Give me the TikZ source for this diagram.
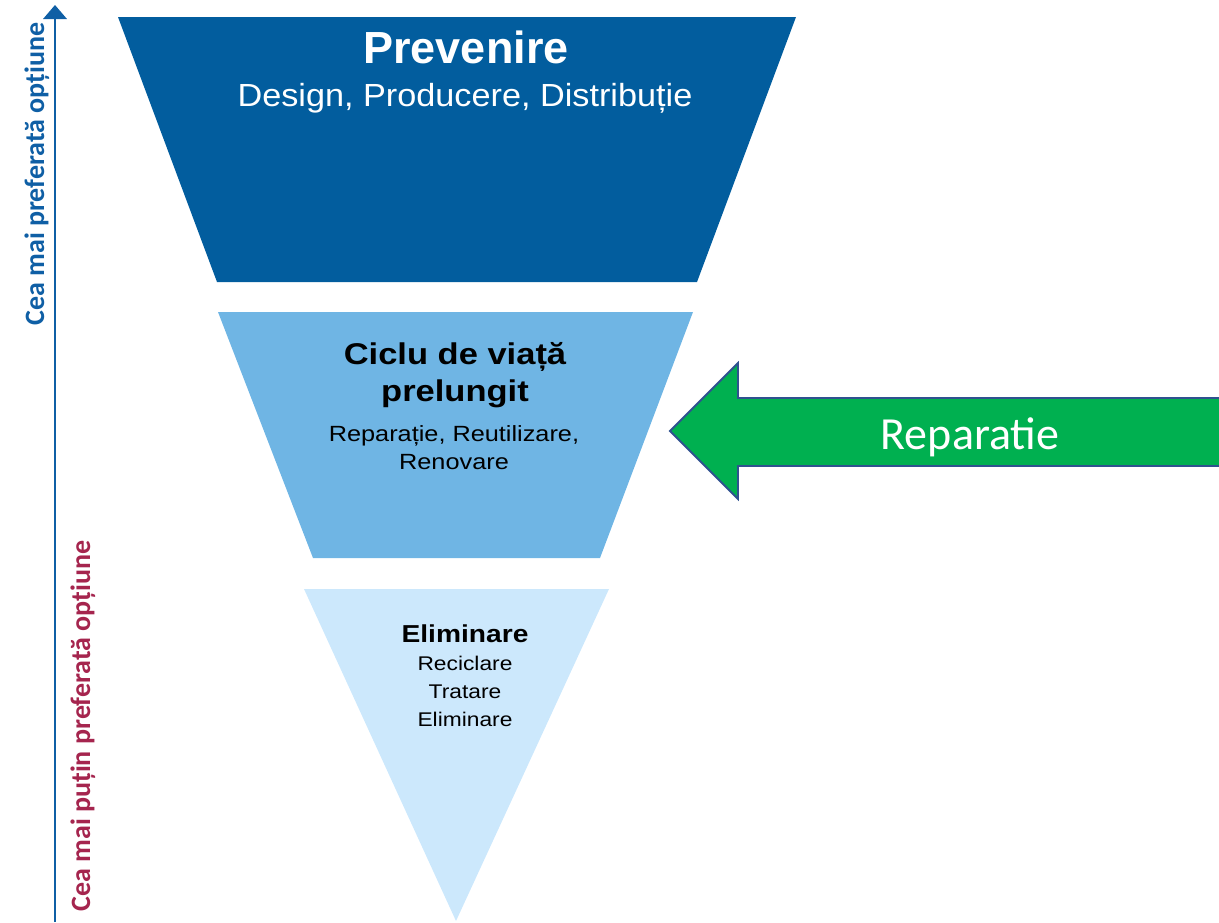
\documentclass[tikz,border=0pt]{standalone}
\usepackage{fontspec}
\setmainfont{Liberation Sans}
\newfontfamily\calibrifont{Carlito}
\definecolor{darkblue}{RGB}{2,93,158}
\definecolor{midblue}{RGB}{111,181,228}
\definecolor{lightblue}{RGB}{204,232,252}
\definecolor{axisblue}{RGB}{15,95,165}
\definecolor{labelred}{RGB}{165,37,78}
\definecolor{arrowgreen}{RGB}{0,176,80}
\definecolor{arrowborder}{RGB}{47,82,143}
\tikzset{
  txt/.style={inner sep=0pt, anchor=base},
  reg/.style 2 args={font=\fontsize{#1}{#1}\selectfont\addfontfeatures{FakeStretch=#2}},
  bld/.style 2 args={font=\bfseries\fontsize{#1}{#1}\selectfont\addfontfeatures{FakeStretch=#2}},
  sidelabel/.style={inner sep=0pt, anchor=base, rotate=90, font=\calibrifont\bfseries\fontsize{28}{28}\selectfont},
}
\begin{document}
\begin{tikzpicture}[x=1pt,y=-1pt]
\useasboundingbox (0,0) rectangle (1219,922);
% levels
\fill[darkblue] (118,17) -- (796,17) -- (697,282) -- (217,282) -- cycle;
\fill[midblue] (218,312) -- (693,312) -- (600,558) -- (313,558) -- cycle;
\fill[lightblue] (304,589) -- (609,589) -- (456,921) -- cycle;
% axis
\coordinate (axbot) at (55,922);
\coordinate (axtop) at (55,5);
\draw[axisblue, line width=2.7pt] (axbot) -- (55,16);
\fill[axisblue] (axtop) -- (67,19) -- (43,19) -- cycle;
\node[sidelabel, text=axisblue] (best) at (44,174) {Cea mai preferată opțiune};
\node[sidelabel, text=labelred] (worst) at (90,726) {Cea mai puțin preferată opțiune};
% texts top
\node[txt, text=white, bld={45}{1}] (prev) at (466,63) {Prevenire};
\node[txt, text=white, reg={32}{1.07}] (prevsub) at (465,106) {Design, Producere, Distribuție};
% middle
\node[txt, bld={30}{1.15}] (ciclu1) at (455,364) {Ciclu de viață};
\node[txt, bld={30}{1.15}] (ciclu2) at (455,401) {prelungit};
\node[txt, reg={22}{1.15}] (rep1) at (454,441) {Reparație, Reutilizare,};
\node[txt, reg={22}{1.15}] (rep2) at (454,469) {Renovare};
% bottom
\node[txt, bld={24.5}{1.15}] (elim) at (465,642) {Eliminare};
\node[txt, reg={19.8}{1.15}] (e1) at (465,670) {Reciclare};
\node[txt, reg={19.8}{1.15}] (e2) at (465,698) {Tratare};
\node[txt, reg={19.8}{1.15}] (e3) at (465,726) {Eliminare};
% green arrow
\fill[arrowgreen] (1225,466) -- (738,466) -- (738,499) -- (670,431) -- (738,363) -- (738,398) -- (1225,398) -- cycle;
\draw[arrowborder, line width=1.8pt, line join=miter] (1225,466) -- (738,466) -- (738,499) -- (670,431) -- (738,363) -- (738,398) -- (1225,398);
\node[txt, text=white, font=\calibrifont\fontsize{46}{46}\selectfont] (reparatie) at (970,449) {Reparatie};
\end{tikzpicture}
\end{document}
